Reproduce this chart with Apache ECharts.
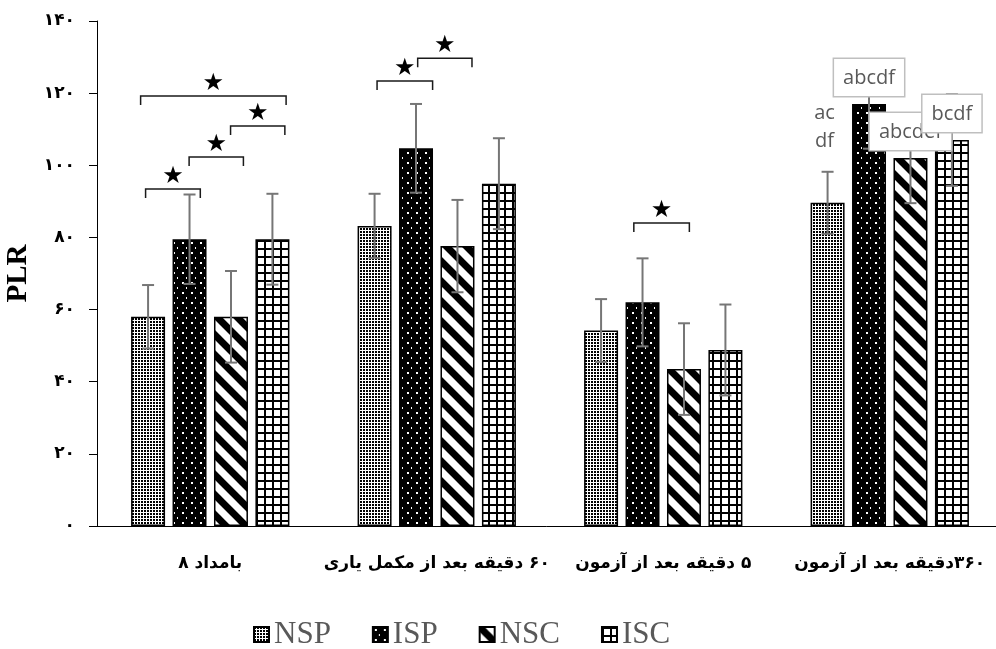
<!DOCTYPE html>
<html>
<head>
<meta charset="utf-8" />
<title>PLR</title>
<script src="https://cdn.jsdelivr.net/npm/echarts@6/dist/echarts.min.js"></script>
</head>
<body style="margin:0;padding:0;background:#fff;">
<div id="chart" style="width:996px;height:649px;"></div>
<script>
// categories (bidi marks keep the digit on the same side as in the original)
const categories = ['\u202A۸ بامداد\u202C', '\u200F۶۰ دقیقه بعد از مکمل یاری', '\u200F۵ دقیقه بعد از آزمون', '\u200F۳۶۰دقیقه بعد از آزمون'];
const seriesNames = ['NSP', 'ISP', 'NSC', 'ISC'];

// bar means
const nspValues = [58, 83.2, 54.2, 89.6];
const ispValues = [79.5, 104.7, 62, 117];
const nscValues = [58, 77.6, 43.5, 102];
const iscValues = [79.5, 94.9, 48.8, 107];

// error bars (+/-)
const nspErrors = [8.8, 8.9, 8.7, 8.6];
const ispErrors = [12.4, 12.3, 12.2, 12.4];
const nscErrors = [12.7, 12.8, 12.7, 12.5];
const iscErrors = [12.6, 12.6, 12.6, 12.7];

const yTicks = [0, 20, 40, 60, 80, 100, 120, 140];

// significance brackets: [category, from bar slot, to bar slot, level]
const brackets = [
	[0, -0.06, 1.26, 93.4],
	[0, 0.99, 2.3, 102.3],
	[0, 1.99, 3.3, 110.9],
	[0, -0.18, 3.33, 119.2],
	[1, 0.06, 1.4, 123.4],
	[1, 1.04, 2.35, 129.7],
	[2, 0.79, 2.13, 84.0]
];

// letter labels on the last group: [category, bar slot, text, boxed]
const callouts = [
	[3, 0, 'ac\ndf', false],
	[3, 1, 'abcdf', true],
	[3, 2, 'abcdef', true],
	[3, 3, 'bcdf', true]
];

const values = [nspValues, ispValues, nscValues, iscValues];
const errors = [nspErrors, ispErrors, nscErrors, iscErrors];

function toFa(n) {
	return String(n).replace(/\d/g, d => '۰۱۲۳۴۵۶۷۸۹'[d]);
}

function pattern(w, h, draw) {
	const c = document.createElement('canvas');
	c.width = w;
	c.height = h;
	draw(c.getContext('2d'));
	return { image: c, repeat: 'repeat' };
}

const patterns = [
	// fine dots
	pattern(3, 3, ctx => {
		ctx.fillStyle = '#fff'; ctx.fillRect(0, 0, 3, 3);
		ctx.fillStyle = '#000'; ctx.fillRect(0, 0, 2, 2);
	}),
	// black with white dots
	pattern(9, 10, ctx => {
		ctx.fillStyle = '#000'; ctx.fillRect(0, 0, 9, 10);
		ctx.fillStyle = '#fff'; ctx.fillRect(2, 2, 2, 2); ctx.fillRect(6, 7, 1, 2);
	}),
	// wide downward diagonal
	pattern(20, 20, ctx => {
		ctx.fillStyle = '#fff'; ctx.fillRect(0, 0, 20, 20);
		ctx.strokeStyle = '#000'; ctx.lineWidth = 7;
		ctx.beginPath();
		ctx.moveTo(-5, -5); ctx.lineTo(25, 25);
		ctx.moveTo(15, -5); ctx.lineTo(25, 5);
		ctx.moveTo(-5, 15); ctx.lineTo(5, 25);
		ctx.stroke();
	}),
	// grid
	pattern(8, 8, ctx => {
		ctx.fillStyle = '#fff'; ctx.fillRect(0, 0, 8, 8);
		ctx.fillStyle = '#000'; ctx.fillRect(0, 0, 8, 2); ctx.fillRect(0, 0, 2, 8);
	})
];

const BAR_W = 0.15, BAR_GAP = 0.22;

function barX(api, cat, slot) {
	const band = api.size([1, 0])[0];
	const step = band * BAR_W * (1 + BAR_GAP);
	return api.coord([cat, 0])[0] + (slot - 1.5) * step;
}

const errorData = [];
values.forEach((vals, s) => vals.forEach((v, c) => errorData.push([c, s, v, errors[s][c]])));

const chart = echarts.init(document.getElementById('chart'));

const barSeries = seriesNames.map((name, i) => ({
	name: name,
	type: 'bar',
	data: values[i],
	barWidth: BAR_W * 100 + '%',
	barGap: BAR_GAP * 100 + '%',
	itemStyle: { color: patterns[i], borderColor: '#000', borderWidth: 1.5 },
	z: 2,
	silent: true
}));

chart.setOption({
	animation: false,
	grid: { left: 97, right: -7, top: 21, bottom: 123, outerBoundsMode: 'none' },
	legend: {
		data: seriesNames,
		left: 253,
		top: 619,
		padding: 0,
		icon: 'rect',
		itemWidth: 15,
		itemHeight: 15,
		itemGap: 41,
		textStyle: { fontFamily: 'Liberation Serif', fontSize: 31, color: '#595959' }
	},
	xAxis: [{
		type: 'category',
		data: categories,
		axisLine: { lineStyle: { color: '#000', width: 1 } },
		axisTick: { length: 8, lineStyle: { color: '#000' } },
		axisLabel: {
			interval: 0,
			margin: 29,
			color: '#000',
			fontFamily: 'DejaVu Sans',
			fontWeight: 'bold',
			fontSize: 17
		}
	}, {
		type: 'category',
		data: categories,
		position: 'bottom',
		axisLine: { show: false },
		axisTick: { alignWithLabel: true, length: 5, lineStyle: { color: '#000' } },
		axisLabel: { show: false }
	}],
	yAxis: {
		type: 'value',
		min: 0,
		max: 140,
		interval: 20,
		name: 'PLR',
		nameLocation: 'middle',
		nameGap: 61,
		nameTextStyle: { fontFamily: 'Liberation Serif', fontWeight: 'bold', fontSize: 29, color: '#000' },
		splitLine: { show: false },
		axisLine: { show: true, lineStyle: { color: '#000', width: 1 } },
		axisTick: { show: true, length: 8, lineStyle: { color: '#000' } },
		axisLabel: {
			margin: 22,
			color: '#000',
			fontFamily: 'DejaVu Sans',
			fontWeight: 'bold',
			fontSize: 17,
			formatter: v => yTicks.includes(v) ? toFa(v) : ''
		}
	},
	series: barSeries.concat([{
		type: 'custom',
		name: 'errors',
		z: 3,
		silent: true,
		data: errorData,
		renderItem: function (params, api) {
			const c = api.value(0), s = api.value(1), v = api.value(2), e = api.value(3);
			const x = barX(api, c, s);
			const y1 = api.coord([c, v + e])[1];
			const y2 = api.coord([c, v - e])[1];
			const st = { stroke: '#767676', lineWidth: 2 };
			return {
				type: 'group',
				children: [
					{ type: 'line', shape: { x1: x, y1: y1, x2: x, y2: y2 }, style: st },
					{ type: 'line', shape: { x1: x - 6, y1: y1, x2: x + 6, y2: y1 }, style: st },
					{ type: 'line', shape: { x1: x - 6, y1: y2, x2: x + 6, y2: y2 }, style: st }
				]
			};
		}
	}, {
		type: 'custom',
		name: 'brackets',
		z: 4,
		silent: true,
		data: brackets,
		renderItem: function (params, api) {
			const c = api.value(0);
			const x1 = barX(api, c, api.value(1));
			const x2 = barX(api, c, api.value(2));
			const y = api.coord([c, api.value(3)])[1];
			return {
				type: 'group',
				children: [
					{ type: 'polyline', shape: { points: [[x1, y + 9], [x1, y], [x2, y], [x2, y + 9]] },
						style: { stroke: '#1a1a1a', lineWidth: 1.5, fill: null } },
					{ type: 'text', style: { text: '★', x: (x1 + x2) / 2, y: y - 12, align: 'center', verticalAlign: 'middle',
						fill: '#000', font: '24px "DejaVu Sans"' } }
				]
			};
		}
	}, {
		type: 'custom',
		name: 'callouts',
		z: 5,
		silent: true,
		data: callouts.map(d => [d[0], d[1]]),
		renderItem: function (params, api) {
			const d = callouts[params.dataIndex];
			const c = d[0], s = d[1];
			const x = barX(api, c, s) - (d[3] ? 0 : 3);
			const y = api.coord([c, values[s][c]])[1];
			const style = {
				text: d[2], x: x, y: y - (d[3] ? 8 : 48), align: 'center', verticalAlign: 'bottom',
				fill: '#595959', font: '20px "Open Sans"', lineHeight: 28
			};
			if (d[3]) {
				Object.assign(style, { backgroundColor: '#fff', borderColor: '#bfbfbf', borderWidth: 1.5, padding: [6, 9, 4, 9], lineHeight: 27 });
			}
			return { type: 'text', style: style };
		}
	}])
});
</script>
</body>
</html>
